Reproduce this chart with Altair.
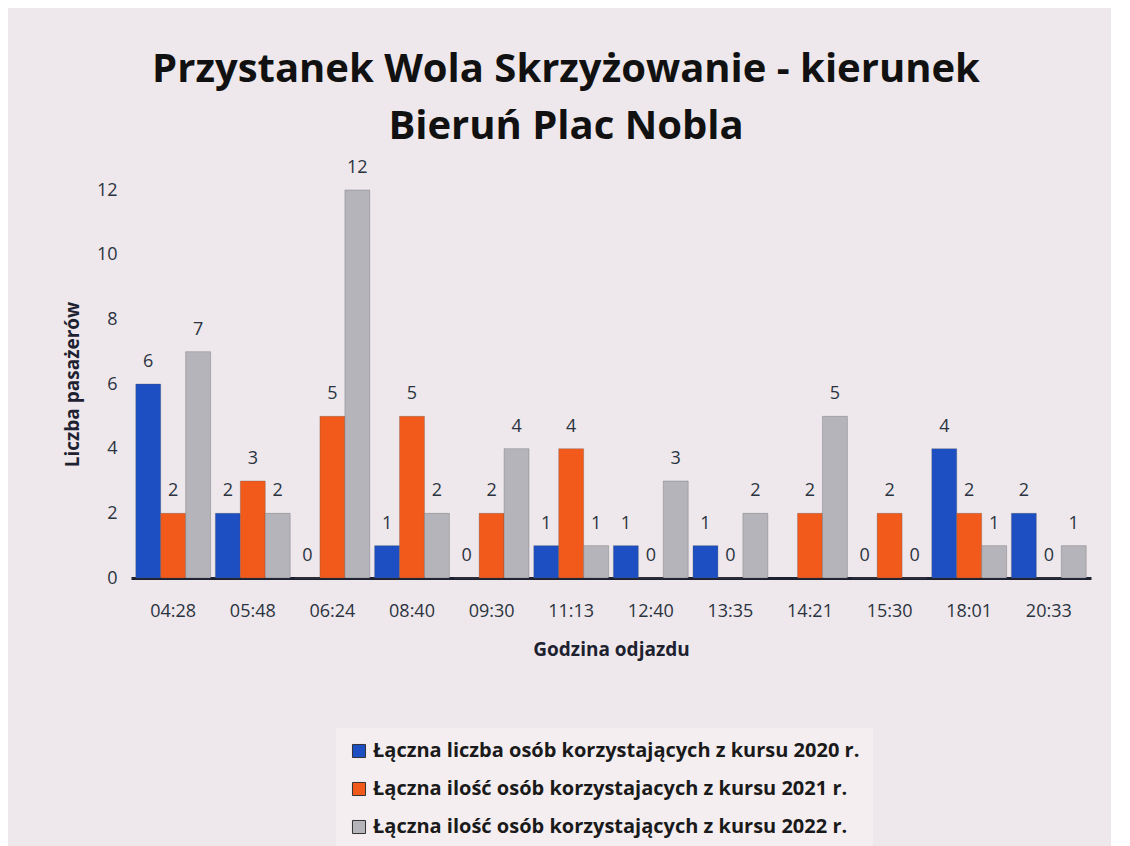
import altair as alt
import pandas as pd

categories = ["04:28", "05:48", "06:24", "08:40", "09:30", "11:13",
              "12:40", "13:35", "14:21", "15:30", "18:01", "20:33"]
series_names = [
    "Łączna liczba osób korzystających z kursu 2020 r.",
    "Łączna ilość osób korzystajacych z kursu 2021 r.",
    "Łączna ilość osób korzystających z kursu 2022 r.",
]
v2020 = [6, 2, 0, 1, 0, 1, 1, 1, None, 0, 4, 2]
v2021 = [2, 3, 5, 5, 2, 4, 0, 0, 2, 2, 2, 0]
v2022 = [7, 2, 12, 2, 4, 1, 3, 2, 5, 0, 1, 1]
colors = ["#1d4fc2", "#f25a1c", "#b5b4bb"]

rows = []
for name, vals in zip(series_names, [v2020, v2021, v2022]):
    for c, v in zip(categories, vals):
        if v is not None:
            rows.append({"Godzina": c, "Seria": name, "Wartosc": v})
df = pd.DataFrame(rows)

FONT = "Open Sans"

x = alt.X("Godzina:N", sort=categories,
          scale=alt.Scale(paddingInner=0.06, paddingOuter=0.06),
          axis=alt.Axis(title="Godzina odjazdu", labelAngle=0, labelFontSize=18,
                        labelColor="#2b3340", labelFont=FONT, labelPadding=24,
                        ticks=False, domainColor="#1e2230", domainWidth=3,
                        titleFont=FONT, titleFontSize=19, titleFontWeight="bold",
                        titleColor="#1e2230", titlePadding=20))
y = alt.Y("Wartosc:Q",
          scale=alt.Scale(domain=[0, 12], nice=False),
          axis=alt.Axis(title="Liczba pasażerów", values=[0, 2, 4, 6, 8, 10, 12],
                        grid=False, domain=False, ticks=False, labelFontSize=18,
                        labelColor="#2b3340", labelFont=FONT, labelPadding=14,
                        titleFont=FONT, titleFontSize=19, titleFontWeight="bold",
                        titleColor="#1e2230", titlePadding=14))
xo = alt.XOffset("Seria:N", sort=series_names,
                 scale=alt.Scale(paddingInner=0.0))
color = alt.Color("Seria:N", sort=series_names,
                  scale=alt.Scale(domain=series_names, range=colors),
                  legend=alt.Legend(title=None, orient="none", legendX=205, legendY=538,
                                    direction="vertical", symbolType="square",
                                    symbolSize=170, symbolStrokeColor="#333",
                                    symbolStrokeWidth=1, labelFont=FONT,
                                    labelFontSize=20, labelFontWeight="bold",
                                    labelColor="#1a1a1a", labelLimit=700,
                                    rowPadding=18, padding=13,
                                    fillColor="#f4eef1"))

bars = alt.Chart(df).mark_bar(stroke="#555", strokeWidth=0.6, strokeOpacity=0.5).encode(
    x=x, y=y, xOffset=xo, color=color)
labels = alt.Chart(df).mark_text(dy=-22, fontSize=18, font=FONT, color="#2b3340").encode(
    x=alt.X("Godzina:N", sort=categories), y=alt.Y("Wartosc:Q"),
    xOffset=alt.XOffset("Seria:N", sort=series_names), text="Wartosc:Q")

chart = alt.layer(bars, labels).properties(
    width=960, height=388,
    background="#eee8ec",
    padding={"left": 55, "top": 42, "right": 20, "bottom": 10},
    title=alt.Title(["Przystanek Wola Skrzyżowanie  - kierunek", "Bieruń Plac Nobla"],
                    font=FONT, fontSize=40, fontWeight="bold", color="#111",
                    lineHeight=57, anchor="middle", dx=-45, offset=12),
).configure_view(stroke=None)

chart.save("out.html", embed_options={"renderer": "svg", "actions": False})
